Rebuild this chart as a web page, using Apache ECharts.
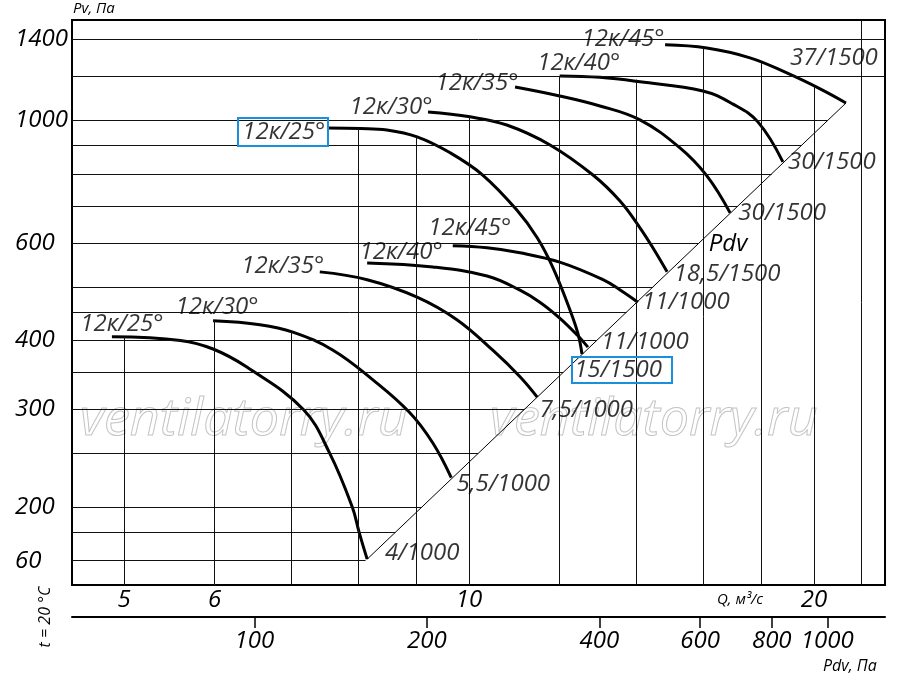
<!DOCTYPE html>
<html>
<head>
<meta charset="utf-8">
<title>12к curves</title>
<script src="https://cdn.jsdelivr.net/npm/echarts@6.0.0/dist/echarts.min.js"></script>
<style>
  * { margin: 0; padding: 0; box-sizing: border-box; }
  html, body { width: 100%; height: 100%; background: #fff; }
  #main { width: 900px; height: 681px; }
</style>
</head>
<body>
<div id="main"></div>
<script>
// axis ranges (all axes are logarithmic)
const qMin = 4.504, qMax = 23.07;
const pvMin = 144.6, pvMax = 1517;
const pdvMin = 48.07, pdvMax = 1261;

// tick labels
const qTicks = [5, 6, 10, 20];
const pvTicks = [160, 200, 300, 400, 600, 1000, 1400];
const pvTickLabels = ['60', '200', '300', '400', '600', '1000', '1400'];
const pdvTicks = [100, 200, 400, 600, 800, 1000];

// grid lines
const gridPv = [160, 180, 200, 250, 300, 350, 400, 450, 500, 600, 700, 800, 900, 1000, 1200, 1400];
const gridQ = [5, 6, 7, 8, 9, 10, 12, 14, 16, 18, 20, 22];
const gridQTop = [406, 434, 414, 968, 933, 1014, 1202, 1184, 1351, 1269, 1149, 1517];

// 1000 rpm curves
const q25a = [4.88, 5.60, 5.98, 6.40, 7.17, 7.56, 7.91, 8.02, 8.15];
const pv25a = [406, 400, 386, 358, 300, 250, 200, 180, 161];
const q30a = [5.98, 6.57, 7.02, 7.61, 8.25, 8.88, 9.30, 9.65];
const pv30a = [434, 427, 414, 384, 339, 296, 261, 226];
const q35a = [7.41, 8.15, 9.01, 9.76, 10.49, 11.08, 11.47];
const pv35a = [532, 515, 479, 436, 384, 344, 316];
const q40a = [8.15, 9.30, 10.37, 11.08, 11.53, 12.0, 12.43, 12.70];
const pv40a = [552, 543, 523, 493, 469, 439, 409, 389];
const q45a = [9.68, 10.37, 11.08, 12.0, 13.09, 13.60, 14.04];
const pv45a = [593, 588, 576, 554, 515, 491, 469];

// 1500 rpm curves
const q25b = [7.53, 8.04, 8.48, 9.01, 9.63, 10.28, 11.01, 11.47, 11.84, 12.25, 12.45, 12.55];
const pv25b = [968, 966, 960, 933, 873, 796, 688, 613, 541, 454, 411, 378];
const q30b = [9.21, 10.02, 10.79, 11.77, 12.83, 13.54, 14.10, 14.47, 14.89];
const pv30b = [1035, 1014, 980, 902, 796, 715, 639, 588, 532];
const q35b = [10.97, 12.0, 13.01, 14.10, 15.28, 16.13, 16.90];
const pv35b = [1148, 1106, 1061, 1001, 891, 793, 680];
const q40b = [12.0, 13.01, 14.10, 16.0, 17.0, 17.87, 18.79];
const pv40b = [1202, 1195, 1173, 1129, 1069, 993, 841];
const q45b = [14.83, 16.13, 17.59, 18.94, 20.25, 21.33];
const pv45b = [1368, 1350, 1296, 1217, 1139, 1074];

const curveNames = ['12к/25°', '12к/30°', '12к/35°', '12к/40°', '12к/45°',
                    '12к/25°', '12к/30°', '12к/35°', '12к/40°', '12к/45°'];
const curveEnds = ['4/1000', '5,5/1000', '7,5/1000', '11/1000', '11/1000',
                   '15/1500', '18,5/1500', '30/1500', '30/1500', '37/1500'];

const curves = [
  [q25a, pv25a], [q30a, pv30a], [q35a, pv35a], [q40a, pv40a], [q45a, pv45a],
  [q25b, pv25b], [q30b, pv30b], [q35b, pv35b], [q40b, pv40b], [q45b, pv45b]
];

// label placement (pixel offsets from the curve's first / last point)
const nameOff = [[10, -13], [4, -14], [-37, -6], [34, -11], [17, -18],
                 [-44, 4], [-37, -5], [-38, -4], [19, -13], [-42, -6]];
const endOff = [[55, -6], [52, 6], [49, 13], [57, -5], [48, 0],
                [36, 16], [60, 2], [52, 0], [49, 0], [-12, -45]];

const L = Math.log10;
const FONT = '"Open Sans", "Liberation Sans", sans-serif';
const BIG = 24;
const pts = (qs, ps) => qs.map((q, i) => [L(q), L(ps[i])]);

// Pdv line runs from the end of the smallest curve to the end of the biggest
const dStart = pts(q25a, pv25a).slice(-1)[0];
const dEnd = pts(q45b, pv45b).slice(-1)[0];
const diagQ = (lp) => {
  if (lp > dEnd[1]) return L(qMax);
  return dStart[0] + (lp - dStart[1]) * (dEnd[0] - dStart[0]) / (dEnd[1] - dStart[1]);
};

const gridLines = [];
gridPv.forEach(p => {
  gridLines.push([{ coord: [L(qMin), L(p)] }, { coord: [diagQ(L(p)), L(p)] }]);
});
gridQ.forEach((q, i) => {
  gridLines.push([{ coord: [L(q), L(pvMin)] }, { coord: [L(q), L(Math.min(gridQTop[i], pvMax))] }]);
});

const series = [{
  type: 'line',
  data: [dStart, dEnd],
  symbol: 'none',
  silent: true,
  lineStyle: { color: '#000', width: 1 },
  markLine: {
    silent: true,
    symbol: ['none', 'none'],
    label: { show: false },
    lineStyle: { color: '#111', width: 1, type: 'solid' },
    emphasis: { disabled: true },
    data: gridLines
  },
  z: 1
}];

curves.forEach(c => {
  series.push({
    type: 'line',
    data: pts(c[0], c[1]),
    symbol: 'none',
    smooth: 0.4,
    silent: true,
    lineStyle: { color: '#000', width: 3 },
    z: 3
  });
});

const labelItems = [];
curves.forEach((c, i) => {
  const p = pts(c[0], c[1]);
  labelItems.push({ value: p[0], label: { formatter: curveNames[i], offset: nameOff[i] } });
  labelItems.push({ value: p[p.length - 1], label: { formatter: curveEnds[i], offset: endOff[i] } });
});
series.push({
  type: 'scatter',
  data: labelItems,
  symbolSize: 1,
  silent: true,
  itemStyle: { color: 'rgba(0,0,0,0)' },
  label: {
    show: true, position: 'inside', color: '#000',
    fontSize: BIG, fontStyle: 'italic', fontFamily: FONT
  },
  z: 5
});

const chart = echarts.init(document.getElementById('main'));
chart.setOption({
  animation: false,
  grid: {
    left: 72, right: 15, top: 20, bottom: 96,
    show: true, borderColor: '#000', borderWidth: 2, backgroundColor: 'transparent'
  },
  xAxis: [{
    type: 'value', min: L(qMin), max: L(qMax),
    axisLine: { show: false }, axisTick: { show: false }, splitLine: { show: false },
    axisLabel: {
      customValues: qTicks.map(L),
      formatter: v => String(qTicks[qTicks.map(L).indexOf(v)] ?? Math.round(Math.pow(10, v))),
      margin: 3, color: '#000', fontSize: BIG, fontStyle: 'italic', fontFamily: FONT
    }
  }, {
    type: 'value', position: 'bottom', offset: 32, min: L(pdvMin), max: L(pdvMax),
    axisLine: { show: true, onZero: false, lineStyle: { color: '#000', width: 2 } },
    axisTick: { show: true, customValues: pdvTicks.map(L), length: 11, lineStyle: { color: '#000', width: 1.5 } },
    splitLine: { show: false },
    axisLabel: {
      customValues: pdvTicks.map(L),
      formatter: v => String(pdvTicks[pdvTicks.map(L).indexOf(v)] ?? Math.round(Math.pow(10, v))),
      margin: 12, color: '#000', fontSize: BIG, fontStyle: 'italic', fontFamily: FONT
    }
  }],
  yAxis: {
    type: 'value', min: L(pvMin), max: L(pvMax),
    axisLine: { show: false }, axisTick: { show: false }, splitLine: { show: false },
    axisLabel: {
      customValues: pvTicks.map(L),
      formatter: v => pvTickLabels[pvTicks.map(L).indexOf(v)] ?? '',
      align: 'left', margin: 57, color: '#000', fontSize: BIG, fontStyle: 'italic', fontFamily: FONT
    }
  },
  series: series,
  graphic: [
    { type: 'text', x: 80, y: 420, z: 0, silent: true,
      style: { text: 'ventilatorry.ru', font: 'italic 52px ' + FONT, fill: 'rgba(0,0,0,0)', stroke: '#c4c4c4', lineWidth: 1, verticalAlign: 'middle' } },
    { type: 'text', x: 490, y: 420, z: 0, silent: true,
      style: { text: 'ventilatorry.ru', font: 'italic 52px ' + FONT, fill: 'rgba(0,0,0,0)', stroke: '#c4c4c4', lineWidth: 1, verticalAlign: 'middle' } },
    { type: 'text', x: 73, y: 9, style: { text: 'Pv, Па', font: 'italic 15px ' + FONT, fill: '#000', verticalAlign: 'middle' } },
    { type: 'text', x: 717, y: 600, style: { text: 'Q, м³/с', font: 'italic 15px ' + FONT, fill: '#000', verticalAlign: 'middle' } },
    { type: 'text', x: 823, y: 666, style: { text: 'Pdv, Па', font: 'italic 16px ' + FONT, fill: '#000', verticalAlign: 'middle' } },
    { type: 'text', x: 45, y: 617, rotation: Math.PI / 2,
      style: { text: 't = 20 °C', font: 'italic 16px ' + FONT, fill: '#000', align: 'center', verticalAlign: 'middle' } },
    { type: 'text', x: 728, y: 244, style: { text: 'Pdv', font: 'italic ' + BIG + 'px ' + FONT, fill: '#000', align: 'center', verticalAlign: 'middle' } },
    { type: 'rect', shape: { x: 238, y: 118, width: 90, height: 28 }, z: 10,
      style: { fill: 'rgba(0,0,0,0)', stroke: '#1a8fdc', lineWidth: 2 } },
    { type: 'rect', shape: { x: 572, y: 357, width: 100, height: 26 }, z: 10,
      style: { fill: 'rgba(0,0,0,0)', stroke: '#1a8fdc', lineWidth: 2 } }
  ]
});
</script>
</body>
</html>
